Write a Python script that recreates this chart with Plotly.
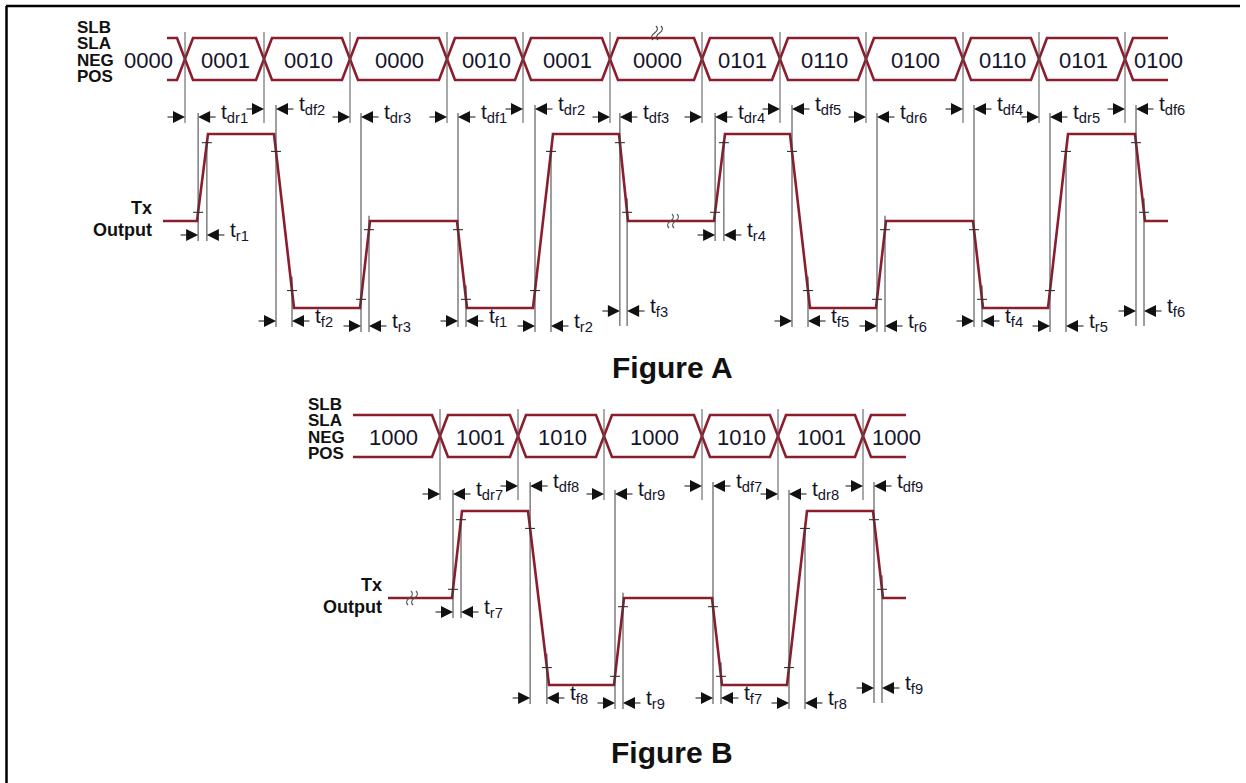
import plotly.graph_objects as go

# ---------------- data ----------------
# Figure A : bus states (SLB SLA NEG POS) and Tx output edges
A_BUS_LABELS = ["0000", "0001", "0010", "0000", "0010", "0001", "0000",
                "0101", "0110", "0100", "0110", "0101", "0100"]
A_BUS_T = [185, 264, 350, 447, 523, 610, 702, 780, 866, 963, 1039, 1125]
A_BUS_SPAN = [167, 1168]
A_TX_SPAN = [163, 1168]
A_EDGE_START = [197, 274, 360, 457, 533, 619, 714, 790, 876, 973, 1048, 1135]
A_EDGE_END = [208, 294, 370, 467, 553, 628, 725, 810, 886, 983, 1068, 1145]
A_LEVELS = [0, 1, -1, 0, -1, 1, 0, 1, -1, 0, -1, 1, 0]   # 1 = high, 0 = mid, -1 = low
A_DELAY_NAMES = ["dr1", "df2", "dr3", "df1", "dr2", "df3", "dr4", "df5", "dr6", "df4", "dr5", "df6"]
A_EDGE_NAMES = ["r1", "f2", "r3", "f1", "r2", "f3", "r4", "f5", "r6", "f4", "r5", "f6"]

# Figure B
B_BUS_LABELS = ["1000", "1001", "1010", "1000", "1010", "1001", "1000"]
B_BUS_T = [440, 518, 604, 702, 778, 863]
B_BUS_SPAN = [353, 906]
B_TX_SPAN = [388, 906]
B_EDGE_START = [452, 528, 614, 712, 787, 873]
B_EDGE_END = [462, 549, 624, 722, 807, 883]
B_LEVELS = [0, 1, -1, 0, -1, 1, 0]
B_DELAY_NAMES = ["dr7", "df8", "dr9", "df7", "dr8", "df9"]
B_EDGE_NAMES = ["r7", "f8", "r9", "f7", "r8", "f9"]

SIGNAL_NAMES = ["SLB", "SLA", "NEG", "POS"]
TX_NAMES = ["Tx", "Output"]
TITLES = ["Figure A", "Figure B"]

# ---------------- style / layout ----------------
MAROON = "#8a1e2d"
TEXT = "#14142a"
GUIDE = "#3c3c3c"
FONT = "Liberation Sans, Arial, sans-serif"

fig = go.Figure()
shapes = []
annotations = []


def seg(x0, y0, x1, y1, color=GUIDE, width=1.0):
    shapes.append(dict(type="line", xref="x", yref="y", x0=x0, y0=y0, x1=x1, y1=y1,
                       line=dict(color=color, width=width), layer="above"))


def arrow(xh, y, xt):
    annotations.append(dict(x=xh, y=y, ax=xt, ay=y, xref="x", yref="y", axref="x", ayref="y",
                            text="", showarrow=True, arrowhead=2, arrowsize=2.0,
                            arrowwidth=1.2, arrowcolor="#111111", standoff=0))


def label(x, y, s, size, xanchor="center", color=TEXT, yshift=0):
    annotations.append(dict(x=x, y=y, text=s, showarrow=False, xanchor=xanchor, yanchor="middle",
                            yshift=yshift, font=dict(family=FONT, size=size, color=color)))


def squiggle(x, y, color):
    for dx in (-2.5, 2.5):
        x0 = x + dx
        path = (f"M {x0+1.5},{y-7} Q {x0+5},{y-3.5} {x0},{y} "
                f"Q {x0-5},{y+3.5} {x0-1.5},{y+7}")
        shapes.append(dict(type="path", xref="x", yref="y", path=path,
                           line=dict(color=color, width=1.1), layer="above"))


def lines_trace(xs, ys):
    fig.add_trace(go.Scatter(x=xs, y=ys, mode="lines", hoverinfo="skip",
                             line=dict(color=MAROON, width=2.6)))


def draw(c, bus_t, bus_span, bus_labels, tx_span, e0, e1, levels, dnames, enames,
         raised, sig_x, tx_x, breaks_bus, breaks_tx):
    top, bot, h = c - 21, c + 21, 8
    # bus (two crossing polylines)
    for start_y in (top, bot):
        xs, ys = [bus_span[0]], [start_y]
        cur, oth = start_y, (bot if start_y == top else top)
        for T in bus_t:
            xs += [T - h, T + h]
            ys += [cur, oth]
            cur, oth = oth, cur
        xs.append(bus_span[1])
        ys.append(cur)
        lines_trace(xs, ys)
    # bus labels
    n = len(bus_t)
    for i, s in enumerate(bus_labels):
        if i == 0:
            if bus_t[0] - bus_span[0] < 40:
                x = bus_span[0] - 19
            else:
                x = (bus_span[0] + bus_t[0]) / 2 - 3
        elif i == n:
            x = bus_t[-1] + 33
        else:
            x = (bus_t[i - 1] + bus_t[i]) / 2 + 1
        label(x, c + 1, s, 22)
    # bus transition guides
    for T in bus_t:
        seg(T, c - 27, T, c + 64, color="#555555")
    # signal names
    for j, s in enumerate(SIGNAL_NAMES):
        label(sig_x, c - 32 + 16.5 * j, "<b>" + s + "</b>", 17, xanchor="left", color="#111111")
    # Tx names
    mid = c + 162
    label(tx_x, mid - 13, "<b>" + TX_NAMES[0] + "</b>", 18, xanchor="right", color="#111111")
    label(tx_x, mid + 9, "<b>" + TX_NAMES[1] + "</b>", 18, xanchor="right", color="#111111")

    def ly(v):
        return mid - 87 * v

    # Tx waveform
    xs, ys = [tx_span[0]], [ly(levels[0])]
    for k in range(len(e0)):
        xs += [e0[k], e1[k]]
        ys += [ly(levels[k]), ly(levels[k + 1])]
    xs.append(tx_span[1])
    ys.append(ly(levels[-1]))
    lines_trace(xs, ys)

    low = ly(-1)
    for k in range(len(e0)):
        lf, lt = levels[k], levels[k + 1]
        yf, yt = ly(lf), ly(lt)
        x10 = e0[k] + 0.1 * (e1[k] - e0[k])
        y10 = yf + 0.1 * (yt - yf)
        x90 = e0[k] + 0.9 * (e1[k] - e0[k])
        y90 = yf + 0.9 * (yt - yf)
        rise = lt > lf
        if rise and lf == 0:
            row = mid + 14
        elif rise:
            row = low + 18
        elif lt == -1:
            row = low + 13
        else:
            row = low + 3
        end = row + (15 if (not rise and lt == 0) else 6)
        yd = c + 58 - 8 * raised[k]
        # ticks
        seg(x10 - 5, y10, x10 + 5, y10, color="#222222")
        seg(x90 - 5, y90, x90 + 5, y90, color="#222222")
        # guides
        seg(x10, yd - 4, x10, end, color=GUIDE)
        y90s = y90 if (rise and lt == 1) else y90 - 14
        seg(x90, y90s, x90, end, color=GUIDE)
        # delay measurement
        arrow(bus_t[k], yd, bus_t[k] - 19)
        arrow(x10, yd, x10 + 19)
        label(x10 + 21, yd, "t<sub>" + dnames[k] + "</sub>", 21, xanchor="left", yshift=4)
        # rise / fall time
        arrow(x10, row, x10 - 19)
        arrow(x90, row, x90 + 19)
        label(x90 + 21, row, "t<sub>" + enames[k] + "</sub>", 21, xanchor="left", yshift=4)

    for bx in breaks_bus:
        squiggle(bx, top - 5, "#444444")
    for bx in breaks_tx:
        squiggle(bx, mid, "#555555")


draw(59, A_BUS_T, A_BUS_SPAN, A_BUS_LABELS, A_TX_SPAN, A_EDGE_START, A_EDGE_END, A_LEVELS,
     A_DELAY_NAMES, A_EDGE_NAMES, [0, 1, 0, 0, 1, 0, 0, 1, 0, 1, 0, 1], 75, 154, [657], [673])
draw(436, B_BUS_T, B_BUS_SPAN, B_BUS_LABELS, B_TX_SPAN, B_EDGE_START, B_EDGE_END, B_LEVELS,
     B_DELAY_NAMES, B_EDGE_NAMES, [0, 1, 0, 1, 0, 1], 306, 384, [], [412])

# titles
label(672, 367, "<b>" + TITLES[0] + "</b>", 30, color="#111111")
label(672, 752, "<b>" + TITLES[1] + "</b>", 30, color="#111111")

# frame
seg(6, 6, 1240, 6, color="#000000", width=2.5)
seg(6.5, 6, 6.5, 783, color="#000000", width=2.5)

fig.update_layout(
    width=1246, height=783, margin=dict(l=0, r=0, t=0, b=0),
    paper_bgcolor="white", plot_bgcolor="white", showlegend=False,
    xaxis=dict(range=[0, 1246], visible=False, fixedrange=True),
    yaxis=dict(range=[783, 0], visible=False, fixedrange=True),
    shapes=shapes, annotations=annotations,
)

fig.write_html("out.html", post_script="document.body.style.margin='0';",
               config={"displayModeBar": False})
